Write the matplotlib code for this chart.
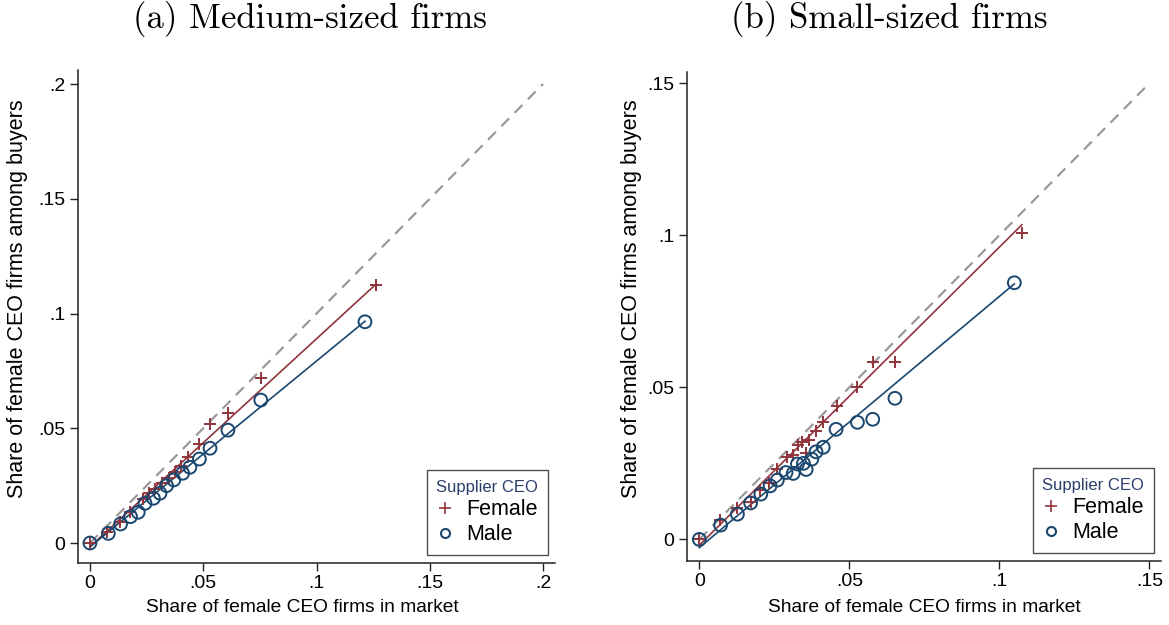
import numpy as np
import matplotlib
matplotlib.use("Agg")
import matplotlib.pyplot as plt
from matplotlib.lines import Line2D

# (a) Medium-sized firms
MED_F_X = [0.0, 0.0077, 0.0132, 0.0177, 0.0232, 0.0262, 0.0287, 0.0316, 0.0350,
           0.0375, 0.0402, 0.0434, 0.0480, 0.0530, 0.0609, 0.0754, 0.1263]
MED_F_Y = [0.0, 0.0049, 0.0093, 0.0137, 0.0190, 0.0217, 0.0234, 0.0260, 0.0282,
           0.0310, 0.0337, 0.0373, 0.0430, 0.0517, 0.0565, 0.0718, 0.1124]
MED_M_X = [0.0, 0.0081, 0.0135, 0.0179, 0.0213, 0.0243, 0.0280, 0.0309, 0.0338,
           0.0370, 0.0409, 0.0441, 0.0483, 0.0530, 0.0609, 0.0754, 0.1214]
MED_M_Y = [0.0, 0.0042, 0.0083, 0.0115, 0.0134, 0.0173, 0.0195, 0.0217, 0.0250,
           0.0275, 0.0304, 0.0330, 0.0366, 0.0413, 0.0492, 0.0623, 0.0964]
# linear fit (intercept, slope)
MED_F_FIT = (-0.0016, 0.906)
MED_M_FIT = (-0.0017, 0.810)

# (b) Small-sized firms
SML_F_X = [0.0, 0.0069, 0.0125, 0.0171, 0.0202, 0.0233, 0.0260, 0.0291, 0.0313,
           0.0330, 0.0341, 0.0356, 0.0367, 0.0389, 0.0411, 0.0458, 0.0525, 0.0578,
           0.0652, 0.1075]
SML_F_Y = [0.0, 0.0063, 0.0102, 0.0124, 0.0162, 0.0186, 0.0230, 0.0272, 0.0277,
           0.0310, 0.0321, 0.0283, 0.0327, 0.0356, 0.0387, 0.0440, 0.0502, 0.0582,
           0.0584, 0.1009]
SML_M_X = [0.0, 0.0071, 0.0127, 0.0171, 0.0205, 0.0236, 0.0260, 0.0289, 0.0313,
           0.0327, 0.0347, 0.0356, 0.0375, 0.0389, 0.0413, 0.0456, 0.0527, 0.0578,
           0.0652, 0.1050]
SML_M_Y = [0.0, 0.0047, 0.0083, 0.0120, 0.0149, 0.0176, 0.0195, 0.0220, 0.0217,
           0.0248, 0.0250, 0.0230, 0.0264, 0.0288, 0.0303, 0.0362, 0.0385, 0.0395,
           0.0464, 0.0844]
SML_F_FIT = (-0.0019, 0.980)
SML_M_FIT = (-0.0027, 0.826)

MED_TICKS = [0, 0.05, 0.1, 0.15, 0.2]
MED_TICKLABELS = ["0", ".05", ".1", ".15", ".2"]
SML_TICKS = [0, 0.05, 0.1, 0.15]
SML_TICKLABELS = ["0", ".05", ".1", ".15"]

MAROON = "#90353B"
NAVY = "#1A476F"
GRAY = "#999999"

W, H = 1169, 625

plt.rcParams["font.family"] = ["Liberation Sans", "DejaVu Sans"]

fig = plt.figure(figsize=(W / 100, H / 100), dpi=100)


def draw_panel(ax, fx, fy, mx, my, ffit, mfit, ticks, ticklabels, lim, xlab_c, ylab_c):
    fx, fy, mx, my = map(np.asarray, (fx, fy, mx, my))
    ax.plot([0, ticks[-1]], [0, ticks[-1]], color=GRAY, lw=1.6, dashes=(5, 3.5), zorder=1)

    for x, fit, col in ((fx, ffit, MAROON), (mx, mfit, NAVY)):
        xs = np.array([x.min(), x.max()])
        ax.plot(xs, fit[0] + fit[1] * xs, color=col, lw=1.2, zorder=2)

    ax.scatter(fx, fy, marker="+", s=75, color=MAROON, linewidths=1.4, zorder=3)
    ax.scatter(mx, my, marker="o", s=85, facecolors="none", edgecolors=NAVY,
               linewidths=1.4, zorder=3)

    ax.set_xlim(lim[0], lim[1])
    ax.set_ylim(lim[2], lim[3])
    ax.set_xticks(ticks)
    ax.set_xticklabels(ticklabels)
    ax.set_yticks(ticks)
    ax.set_yticklabels(ticklabels)
    for s in ("top", "right"):
        ax.spines[s].set_visible(False)
    for s in ("left", "bottom"):
        ax.spines[s].set_linewidth(1.1)
        ax.spines[s].set_color("#222222")
    ax.tick_params(direction="out", length=6, width=1.0, labelsize=14, pad=3,
                   color="#222222")
    ax.set_xlabel("Share of female CEO firms in market", fontsize=13.8)
    ax.set_ylabel("Share of female CEO firms among buyers", fontsize=15.5)

    # label positions in figure pixels
    pos = ax.get_position()
    ax.xaxis.set_label_coords((xlab_c[0] / W - pos.x0) / pos.width,
                              ((1 - xlab_c[1] / H) - pos.y0) / pos.height)
    ax.yaxis.set_label_coords((ylab_c[0] / W - pos.x0) / pos.width,
                              ((1 - ylab_c[1] / H) - pos.y0) / pos.height)
    ax.xaxis.label.set_va("center")
    ax.yaxis.label.set_va("center")

    handles = [
        Line2D([], [], ls="none", marker="+", ms=8, mew=1.2, color=MAROON),
        Line2D([], [], ls="none", marker="o", ms=6.5, mew=1.5, mfc="none", color=NAVY),
    ]
    leg = ax.legend(handles, ["Female", "Male"], title="Supplier CEO",
                    loc="lower right", bbox_to_anchor=(0.985, 0.016),
                    fontsize=15.5, title_fontsize=12, frameon=True, fancybox=False,
                    handlelength=0.8, handletextpad=0.6, borderpad=0.45,
                    labelspacing=0.2, borderaxespad=0)
    leg.get_title().set_color("#2B3F6B")
    leg._legend_box.align = "left"
    frame = leg.get_frame()
    frame.set_edgecolor("#222222")
    frame.set_linewidth(1.0)


ax1 = fig.add_axes([0.0667, 0.0992, 0.4081, 0.7888])
draw_panel(ax1, MED_F_X, MED_F_Y, MED_M_X, MED_M_Y, MED_F_FIT, MED_M_FIT,
           MED_TICKS, MED_TICKLABELS, (-0.0053, 0.2053, -0.0087, 0.2061),
           (302, 607), (18, 299))

ax2 = fig.add_axes([0.5877, 0.1024, 0.4055, 0.7824])
draw_panel(ax2, SML_F_X, SML_F_Y, SML_M_X, SML_M_Y, SML_F_FIT, SML_M_FIT,
           SML_TICKS, SML_TICKLABELS, (-0.0041, 0.1539, -0.0071, 0.1537),
           (924, 607), (632, 299))

fig.text(310 / W, 1 - 19 / H, "(a) Medium-sized firms", family="cmr10",
         fontsize=25, ha="center", va="center")
fig.text(889 / W, 1 - 19 / H, "(b) Small-sized firms", family="cmr10",
         fontsize=25, ha="center", va="center")

fig.savefig("out.png", dpi=100)
